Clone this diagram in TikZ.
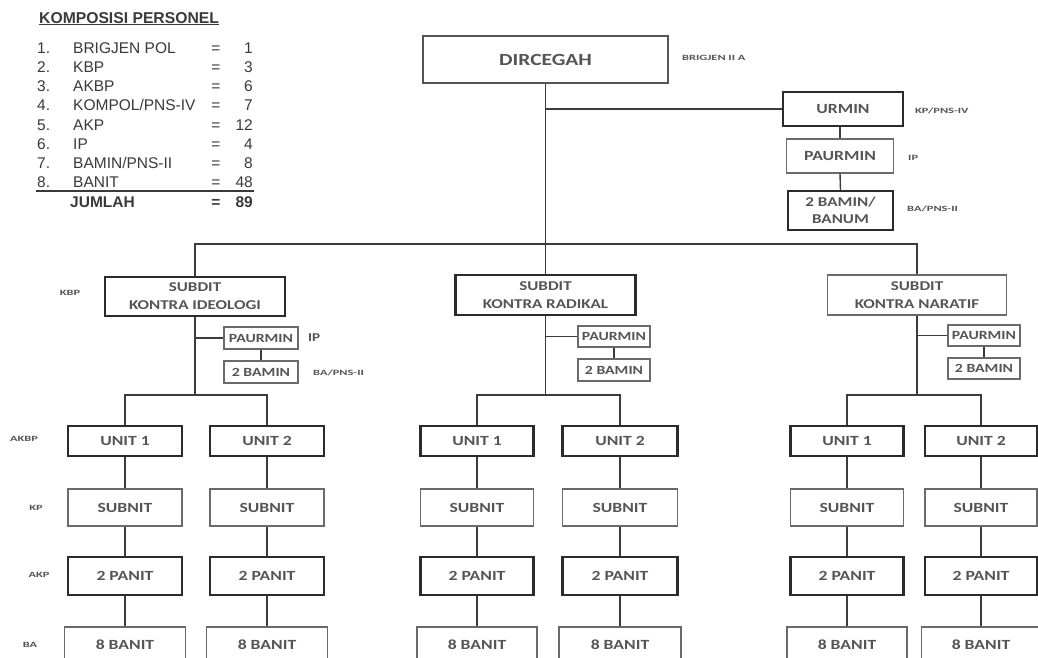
\documentclass[tikz,border=0pt]{standalone}
\usepackage{fontspec}
\setmainfont{Liberation Sans}
\newfontfamily\chartfont[FakeStretch=1.26]{Carlito}
\newfontfamily\lblfont[FakeStretch=1.55]{Carlito}
\definecolor{txtc}{HTML}{555555}
\definecolor{legc}{HTML}{3A3A3A}
\definecolor{darkc}{HTML}{2B2B2B}
\definecolor{lightc}{HTML}{6A6A6A}
\definecolor{linec}{HTML}{3C3C3C}
\tikzset{
 cbox/.style={draw, inner sep=0pt, align=center, text=txtc, font=\chartfont\bfseries\fontsize{14}{18}\selectfont},
 bbox/.style={cbox, draw=darkc, line width=2.4pt},
 tbox/.style={cbox, draw=lightc, line width=1.4pt},
 conn/.style={draw=linec, line width=1.4pt},
 lbl/.style={inner sep=0pt, text=txtc, font=\lblfont\bfseries\fontsize{8}{8}\selectfont},
 leg/.style={inner sep=0pt, text=legc, font=\fontsize{15.5}{16}\selectfont},
 legb/.style={leg, font=\bfseries\fontsize{15.5}{16}\selectfont},
}
\begin{document}
\begin{tikzpicture}[x=1pt,y=-1pt]
\useasboundingbox (0,0) rectangle (1038,657);
\fill[white] (0,0) rectangle (1038,657);
\clip (0,0) rectangle (1038,657);

% ---------- legend ----------
\node[anchor=base west, inner sep=0pt, text=legc, font=\bfseries\fontsize{15.7}{16}\selectfont] (title) at (39,23) {\underline{KOMPOSISI PERSONEL}};
\foreach \i/\lab/\v [count=\k from 0] in {1/BRIGJEN POL/1, 2/KBP/3, 3/AKBP/6, 4/KOMPOL\slash PNS-IV/7, 5/AKP/12, 6/IP/4, 7/BAMIN\slash PNS-II/8, 8/BANIT/48} {
  \node[leg, anchor=base west] (num\i) at (37,{53.2+19.2*\k}) {\i.};
  \node[leg, anchor=base west] (lab\i) at (73,{53.2+19.2*\k}) {\lab};
  \node[leg, anchor=base] (eq\i) at (216,{53.2+19.2*\k}) {=};
  \node[leg, anchor=base east] (val\i) at (253,{53.2+19.2*\k}) {\v};
}
\draw[legc, line width=1.2pt] (36,191) -- (254,191);
\node[legb, anchor=base west] (jml) at (70,207) {JUMLAH};
\node[legb, anchor=base] (jeq) at (216,207) {=};
\node[legb, anchor=base east] (jval) at (253,207) {89};

% ---------- top ----------
\node[cbox, draw=darkc!80, line width=1.8pt, minimum width=245, minimum height=47, font=\chartfont\bfseries\fontsize{17}{18}\selectfont] (dir) at (545.5,59.5) {DIRCEGAH};
\node[lbl, anchor=west] (ldir) at (682,58) {BRIGJEN II A};

\node[bbox, minimum width=120, minimum height=34] (urmin) at (843,109) {URMIN};
\node[tbox, minimum width=107, minimum height=34] (paur0) at (840,156) {PAURMIN};
\node[bbox, minimum width=105, minimum height=39, font=\chartfont\bfseries\fontsize{13.5}{17}\selectfont] (bam0) at (840.5,210.5) {2 BAMIN/\\BANUM};
\node[lbl, anchor=west] (lurmin) at (915,111) {KP/PNS-IV};
\node[lbl, anchor=west] (lpaur0) at (908,158) {IP};
\node[lbl, anchor=west] (lbam0) at (907,209) {BA/PNS-II};

\draw[conn] (dir.south |- urmin.west) -- (urmin.west);
\draw[conn] (paur0.north |- urmin.south) -- (paur0.north);
\draw[conn] (paur0.south) -- (bam0.north);

% ---------- subdit ----------
\coordinate (rowS) at (0,244);
\coordinate (rowU) at (0,395);
\tikzset{sfont/.style={font=\chartfont\bfseries\fontsize{13.5}{18}\selectfont}}
\node[bbox, sfont, minimum width=180, minimum height=39] (sI) at (195,296.5) {SUBDIT\\KONTRA IDEOLOGI};
\node[bbox, sfont, minimum width=180, minimum height=40] (sR) at (545.5,295) {SUBDIT\\KONTRA RADIKAL};
\node[tbox, sfont, minimum width=179, minimum height=40] (sN) at (917,295) {SUBDIT\\KONTRA NARATIF};
\node[lbl, anchor=center] (lsI) at (70,293) {KBP};

\draw[conn] (dir.south) -- (dir.south |- sR.north);
\draw[conn] (sI.north) |- (dir.south |- rowS) -| (sN.north);

\tikzset{pfont/.style={font=\chartfont\bfseries\fontsize{12.5}{14}\selectfont}}
\node[tbox, pfont, minimum width=74, minimum height=22] (pI) at (261,338) {PAURMIN};
\node[tbox, pfont, minimum width=74, minimum height=22] (bI) at (261,372) {2 BAMIN};
\node[tbox, pfont, minimum width=72, minimum height=21] (pR) at (614,336.5) {PAURMIN};
\node[tbox, pfont, minimum width=72, minimum height=22] (bR) at (614,370) {2 BAMIN};
\node[tbox, pfont, minimum width=72, minimum height=21] (pN) at (984,335.5) {PAURMIN};
\node[tbox, pfont, minimum width=72, minimum height=21] (bN) at (984,368.5) {2 BAMIN};
\node[inner sep=0pt, text=txtc, font=\chartfont\bfseries\fontsize{12}{12}\selectfont, anchor=west] (lpI) at (308,338) {IP};
\node[lbl, anchor=west] (lbI) at (313,373) {BA/PNS-II};

\foreach \s/\p/\b in {sI/pI/bI, sR/pR/bR, sN/pN/bN} {
  \draw[conn] (\s.south) -- (\s.south |- rowU);
  \draw[conn] (\s.south |- \p.west) -- (\p.west);
  \draw[conn] (\p.south) -- (\b.north);
}

% ---------- units ----------
\foreach \n/\x/\w/\lab in {1/125/114/UNIT 1, 2/267/114/UNIT 2, 3/477/113/UNIT 1, 4/620/115/UNIT 2, 5/847/113/UNIT 1, 6/981/112/UNIT 2} {
  \node[bbox, minimum width=\w, minimum height=30] (u\n) at (\x,441) {\lab};
  \node[tbox, minimum width=\w, minimum height=37] (sb\n) at (\x,507.5) {SUBNIT};
  \node[bbox, minimum width=\w, minimum height=38] (pa\n) at (\x,576) {2 PANIT};
  \node[tbox, minimum width={\w+7}, minimum height=36] (ba\n) at (\x,645) {8 BANIT};
  \draw[conn] (u\n.south) -- (sb\n.north);
  \draw[conn] (sb\n.south) -- (pa\n.north);
  \draw[conn] (pa\n.south) -- (ba\n.north);
}
\draw[conn] (u1.north) |- (sI.south |- rowU) -| (u2.north);
\draw[conn] (u3.north) |- (sR.south |- rowU) -| (u4.north);
\draw[conn] (u5.north) |- (sN.south |- rowU) -| (u6.north);

\node[lbl] (lakbp) at (24,439) {AKBP};
\node[lbl] (lkp) at (36,508) {KP};
\node[lbl] (lakp) at (39,575) {AKP};
\node[lbl] (lba) at (30,645) {BA};
\end{tikzpicture}
\end{document}
